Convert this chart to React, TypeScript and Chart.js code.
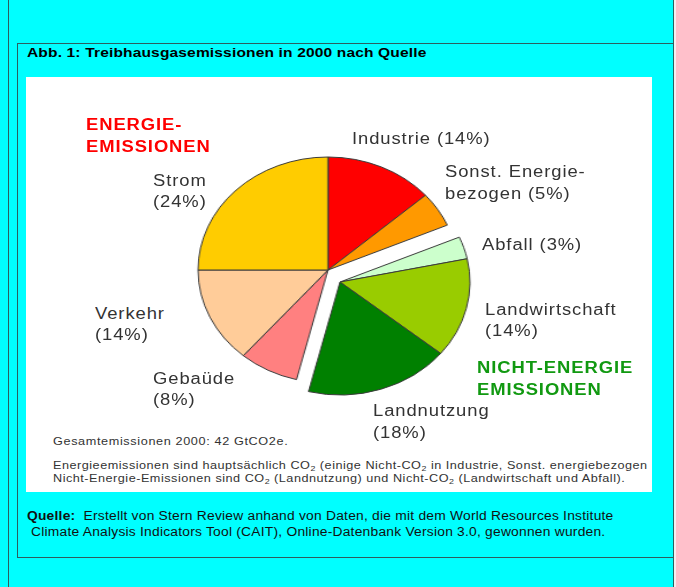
import React, { useEffect, useRef } from "react";
import { Chart, registerables } from "chart.js";

Chart.register(...registerables);

// ---- data ----
const categories = [
  "Industrie",
  "Sonst. Energiebezogen",
  "Abfall",
  "Landwirtschaft",
  "Landnutzung",
  "Gebaüde",
  "Verkehr",
  "Strom",
];
// slice sizes as drawn in the picture (percent)
const shares = [13.5, 5, 3.2, 14.2, 18, 7.4, 13.7, 25];
// percentages as printed in the labels
const labelPercents = ["14%", "5%", "3%", "14%", "18%", "8%", "14%", "24%"];
const isEnergy = [true, true, false, false, false, true, true, true];
const sliceColors = ["#FF0000", "#FF9900", "#CCFFCC", "#99CC00", "#008000", "#FF8080", "#FFCC99", "#FFCC00"];
const sliceLabelLines = [
  [`Industrie (${labelPercents[0]})`],
  ["Sonst. Energie-", `bezogen (${labelPercents[1]})`],
  [`Abfall (${labelPercents[2]})`],
  ["Landwirtschaft", `(${labelPercents[3]})`],
  ["Landnutzung", `(${labelPercents[4]})`],
  ["Gebaüde", `(${labelPercents[5]})`],
  ["Verkehr", `(${labelPercents[6]})`],
  ["Strom", `(${labelPercents[7]})`],
];
const groupLabels = [["ENERGIE-", "EMISSIONEN"], ["NICHT-ENERGIE", "EMISSIONEN"]];
const titleText = "Abb. 1: Treibhausgasemissionen in 2000 nach Quelle";
const totalText = "Gesamtemissionen 2000: 42 GtCO2e.";

// ---- layout / style ----
const FONT = 'Arial, "Liberation Sans", Helvetica, sans-serif';
const SX = 1.15;
const LINE = "#2d5f5f";
const LABEL_COLOR = "#333333";
const PIE_R = 113;
const CANVAS = 260;
const PIE_CX = 327.7;
const PIE_CY = 270;
const EXPLODE_DX = 12.3;
const EXPLODE_DY = 11.7;
const labelPos: [number, number][] = [
  [351.7, 138],
  [445, 171.7],
  [481.7, 244],
  [485, 309.3],
  [372.7, 410.7],
  [152.7, 378.3],
  [95, 313.3],
  [153, 180],
];
const groupPos: [number, number][] = [
  [86, 124],
  [476.7, 367.3],
];
const groupColors = ["#FF0000", "#119911"];

function Txt(props: {
  x: number;
  y: number;
  lh: number;
  size: number;
  bold?: boolean;
  color?: string;
  ls?: string;
  children: React.ReactNode;
}) {
  const { x, y, lh, size, bold, color, ls, children } = props;
  return (
    <div
      style={{
        position: "absolute",
        left: x,
        top: y - lh / 2,
        height: lh,
        lineHeight: lh + "px",
        fontSize: size,
        fontWeight: bold ? 700 : 400,
        color: color || "#000",
        whiteSpace: "nowrap",
        transform: `scaleX(${SX})`,
        transformOrigin: "0 0",
        letterSpacing: ls || "0.05em",
        fontFamily: FONT,
      }}
    >
      {children}
    </div>
  );
}

function PiePart({ energy }: { energy: boolean }) {
  const ref = useRef<HTMLCanvasElement>(null);
  useEffect(() => {
    const show = isEnergy.map((e) => e === energy);
    const bg = sliceColors.map((c, i) => (show[i] ? c : "rgba(0,0,0,0)"));
    const bc = sliceColors.map((_, i) => (show[i] ? "#3a3a3a" : "rgba(0,0,0,0)"));
    const chart = new Chart(ref.current as HTMLCanvasElement, {
      type: "pie",
      data: {
        labels: categories,
        datasets: [
          {
            data: shares,
            backgroundColor: bg,
            borderColor: bc,
            borderWidth: 1,
            radius: PIE_R,
          } as any,
        ],
      },
      options: {
        responsive: false,
        animation: false,
        events: [],
        radius: PIE_R,
        layout: { padding: 0 },
        plugins: { legend: { display: false }, tooltip: { enabled: false }, title: { display: false } },
      } as any,
    });
    return () => chart.destroy();
  }, [energy]);
  const dx = energy ? 0 : EXPLODE_DX;
  const dy = energy ? 0 : EXPLODE_DY;
  return (
    <div
      style={{
        position: "absolute",
        left: PIE_CX + dx - CANVAS / 2,
        top: PIE_CY + dy - CANVAS / 2,
        width: CANVAS,
        height: CANVAS,
        transform: `scaleX(${SX})`,
        transformOrigin: `${CANVAS / 2}px ${CANVAS / 2}px`,
      }}
    >
      <canvas ref={ref} width={CANVAS} height={CANVAS} style={{ display: "block" }} />
    </div>
  );
}

const sub = (t: string) => (
  <sub style={{ fontSize: "0.7em", verticalAlign: "-0.25em", lineHeight: 0 }}>{t}</sub>
);

export default function App() {
  const PX = 26;
  const PY = 77;
  return (
    <div
      style={{
        position: "fixed",
        left: 0,
        top: 0,
        width: 676,
        height: 587,
        background: "#00FFFF",
        overflow: "hidden",
        fontFamily: FONT,
      }}
    >
      <div style={{ position: "absolute", left: 674, top: 0, width: 2, height: 587, background: "#f4eef0" }} />
      <div style={{ position: "absolute", left: 8, top: 0, width: 1, height: 587, background: LINE }} />
      <div style={{ position: "absolute", left: 673, top: 0, width: 1, height: 587, background: LINE }} />
      <div
        style={{
          position: "absolute",
          left: 17,
          top: 43,
          width: 656,
          height: 515,
          boxSizing: "border-box",
          borderLeft: `1px solid ${LINE}`,
          borderTop: `1px solid ${LINE}`,
          borderBottom: `1px solid ${LINE}`,
        }}
      />
      <Txt x={27} y={52.7} lh={16} size={13.5} bold ls="0.01em">
        {titleText}
      </Txt>

      <div
        style={{
          position: "absolute",
          left: PX,
          top: PY,
          width: 652 - PX,
          height: 492 - PY,
          background: "#fff",
          overflow: "hidden",
        }}
      >
        <Txt x={53.3 - PX} y={441.7 - PY} lh={13} size={11} color="#333">
          {totalText}
        </Txt>
        <Txt x={53.3 - PX} y={465.7 - PY} lh={13.3} size={11} color="#333" ls="0.04em">
          <span>Energieemissionen sind hauptsächlich CO{sub("2")} (einige Nicht-CO{sub("2")} in Industrie, Sonst. energiebezogen</span>
        </Txt>
        <Txt x={53.3 - PX} y={479 - PY} lh={13.3} size={11} color="#333" ls="0.04em">
          <span>Nicht-Energie-Emissionen sind CO{sub("2")} (Landnutzung) und Nicht-CO{sub("2")} (Landwirtschaft und Abfall).</span>
        </Txt>
      </div>

      <PiePart energy={true} />
      <PiePart energy={false} />

      {sliceLabelLines.map((lines, i) =>
        lines.map((line, j) => (
          <Txt key={`l${i}-${j}`} x={labelPos[i][0]} y={labelPos[i][1] + j * 21.6} lh={21} size={16} color={LABEL_COLOR}>
            {line}
          </Txt>
        ))
      )}
      {groupLabels.map((lines, i) =>
        lines.map((line, j) => (
          <Txt key={`g${i}-${j}`} x={groupPos[i][0]} y={groupPos[i][1] + j * 22} lh={21} size={16} bold color={groupColors[i]}>
            {line}
          </Txt>
        ))
      )}

      <Txt x={27} y={515.7} lh={16} size={12} color="#111" ls="0.2px">
        <span>
          <b>Quelle:</b>
          {"\u00a0 Erstellt von Stern Review anhand von Daten, die mit dem World Resources Institute"}
        </span>
      </Txt>
      <Txt x={27} y={532.3} lh={16} size={12} color="#111" ls="0.2px">
        {"\u00a0Climate Analysis Indicators Tool (CAIT), Online-Datenbank Version 3.0, gewonnen wurden."}
      </Txt>
    </div>
  );
}
